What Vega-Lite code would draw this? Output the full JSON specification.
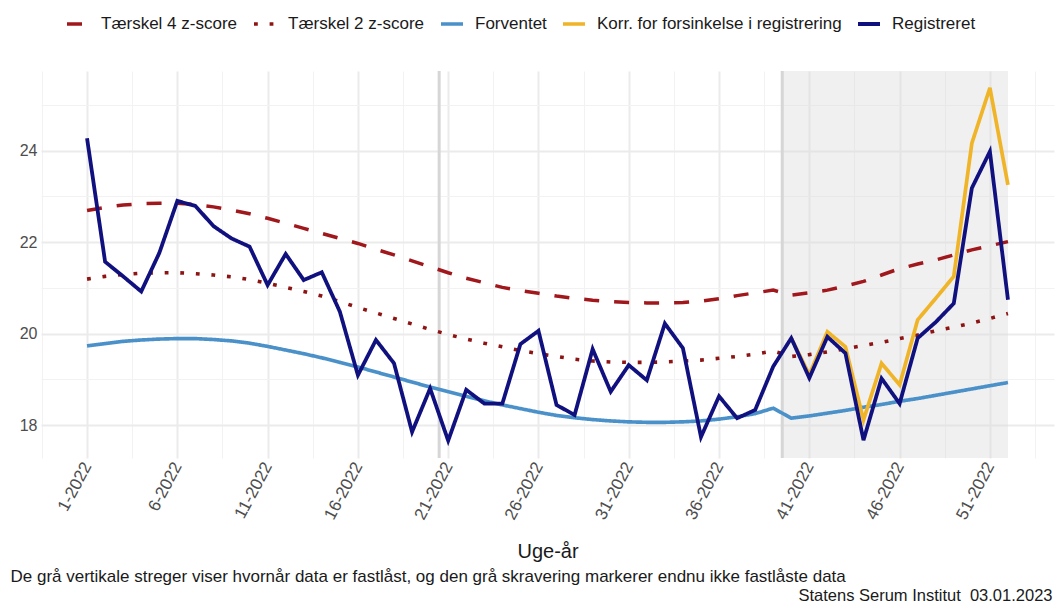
{
  "$schema": "https://vega.github.io/schema/vega-lite/v6.json",
  "width": 1013,
  "height": 387,
  "autosize": {"type": "none"},
  "padding": {"left": 41, "top": 71, "right": 4, "bottom": 146},
  "background": "white",
  "config": {
    "font": "Liberation Sans",
    "view": {"stroke": null},
    "axis": {"domain": false, "ticks": false, "labelColor": "#4d4d4d", "gridColor": "#ebebeb"}
  },
  "datasets": {
    "uger": [
      {"uge": 1, "t4": 22.69, "t2": 21.19, "forv": 19.73, "korr": null, "reg": 24.27},
      {"uge": 2, "t4": 22.76, "t2": 21.25, "forv": 19.78, "korr": null, "reg": 21.57},
      {"uge": 3, "t4": 22.81, "t2": 21.29, "forv": 19.83, "korr": null, "reg": 21.25},
      {"uge": 4, "t4": 22.84, "t2": 21.32, "forv": 19.86, "korr": null, "reg": 20.92},
      {"uge": 5, "t4": 22.85, "t2": 21.33, "forv": 19.88, "korr": null, "reg": 21.76},
      {"uge": 6, "t4": 22.85, "t2": 21.33, "forv": 19.89, "korr": null, "reg": 22.90},
      {"uge": 7, "t4": 22.82, "t2": 21.31, "forv": 19.89, "korr": null, "reg": 22.79},
      {"uge": 8, "t4": 22.77, "t2": 21.28, "forv": 19.87, "korr": null, "reg": 22.35},
      {"uge": 9, "t4": 22.70, "t2": 21.24, "forv": 19.84, "korr": null, "reg": 22.08},
      {"uge": 10, "t4": 22.62, "t2": 21.18, "forv": 19.79, "korr": null, "reg": 21.90},
      {"uge": 11, "t4": 22.52, "t2": 21.10, "forv": 19.72, "korr": null, "reg": 21.06},
      {"uge": 12, "t4": 22.41, "t2": 21.01, "forv": 19.64, "korr": null, "reg": 21.74},
      {"uge": 13, "t4": 22.30, "t2": 20.92, "forv": 19.56, "korr": null, "reg": 21.17},
      {"uge": 14, "t4": 22.19, "t2": 20.82, "forv": 19.47, "korr": null, "reg": 21.34},
      {"uge": 15, "t4": 22.08, "t2": 20.70, "forv": 19.37, "korr": null, "reg": 20.48},
      {"uge": 16, "t4": 21.97, "t2": 20.57, "forv": 19.27, "korr": null, "reg": 19.09},
      {"uge": 17, "t4": 21.84, "t2": 20.45, "forv": 19.16, "korr": null, "reg": 19.86},
      {"uge": 18, "t4": 21.72, "t2": 20.33, "forv": 19.05, "korr": null, "reg": 19.35},
      {"uge": 19, "t4": 21.59, "t2": 20.21, "forv": 18.94, "korr": null, "reg": 17.85},
      {"uge": 20, "t4": 21.46, "t2": 20.09, "forv": 18.83, "korr": null, "reg": 18.80},
      {"uge": 21, "t4": 21.33, "t2": 19.98, "forv": 18.73, "korr": null, "reg": 17.66},
      {"uge": 22, "t4": 21.21, "t2": 19.88, "forv": 18.63, "korr": null, "reg": 18.77},
      {"uge": 23, "t4": 21.11, "t2": 19.79, "forv": 18.53, "korr": null, "reg": 18.47},
      {"uge": 24, "t4": 21.01, "t2": 19.71, "forv": 18.44, "korr": null, "reg": 18.47},
      {"uge": 25, "t4": 20.94, "t2": 19.63, "forv": 18.36, "korr": null, "reg": 19.77},
      {"uge": 26, "t4": 20.88, "t2": 19.56, "forv": 18.28, "korr": null, "reg": 20.06},
      {"uge": 27, "t4": 20.82, "t2": 19.50, "forv": 18.21, "korr": null, "reg": 18.44},
      {"uge": 28, "t4": 20.77, "t2": 19.44, "forv": 18.16, "korr": null, "reg": 18.22},
      {"uge": 29, "t4": 20.73, "t2": 19.40, "forv": 18.12, "korr": null, "reg": 19.66},
      {"uge": 30, "t4": 20.70, "t2": 19.38, "forv": 18.09, "korr": null, "reg": 18.73},
      {"uge": 31, "t4": 20.68, "t2": 19.37, "forv": 18.07, "korr": null, "reg": 19.31},
      {"uge": 32, "t4": 20.67, "t2": 19.37, "forv": 18.06, "korr": null, "reg": 18.98},
      {"uge": 33, "t4": 20.67, "t2": 19.38, "forv": 18.06, "korr": null, "reg": 20.22},
      {"uge": 34, "t4": 20.68, "t2": 19.40, "forv": 18.07, "korr": null, "reg": 19.68},
      {"uge": 35, "t4": 20.71, "t2": 19.42, "forv": 18.09, "korr": null, "reg": 17.74},
      {"uge": 36, "t4": 20.76, "t2": 19.46, "forv": 18.13, "korr": null, "reg": 18.63},
      {"uge": 37, "t4": 20.83, "t2": 19.50, "forv": 18.18, "korr": null, "reg": 18.15},
      {"uge": 38, "t4": 20.89, "t2": 19.55, "forv": 18.25, "korr": null, "reg": 18.33},
      {"uge": 39, "t4": 20.95, "t2": 19.62, "forv": 18.37, "korr": null, "reg": 19.28},
      {"uge": 40, "t4": 20.84, "t2": 19.50, "forv": 18.15, "korr": 19.90, "reg": 19.90},
      {"uge": 41, "t4": 20.89, "t2": 19.54, "forv": 18.20, "korr": 19.10, "reg": 19.03},
      {"uge": 42, "t4": 20.95, "t2": 19.60, "forv": 18.26, "korr": 20.04, "reg": 19.93},
      {"uge": 43, "t4": 21.04, "t2": 19.67, "forv": 18.32, "korr": 19.71, "reg": 19.57},
      {"uge": 44, "t4": 21.14, "t2": 19.74, "forv": 18.39, "korr": 18.11, "reg": 17.67},
      {"uge": 45, "t4": 21.28, "t2": 19.81, "forv": 18.45, "korr": 19.35, "reg": 19.02},
      {"uge": 46, "t4": 21.42, "t2": 19.89, "forv": 18.52, "korr": 18.88, "reg": 18.47},
      {"uge": 47, "t4": 21.52, "t2": 19.97, "forv": 18.58, "korr": 20.30, "reg": 19.90},
      {"uge": 48, "t4": 21.61, "t2": 20.06, "forv": 18.65, "korr": 20.77, "reg": 20.25},
      {"uge": 49, "t4": 21.72, "t2": 20.14, "forv": 18.72, "korr": 21.25, "reg": 20.66},
      {"uge": 50, "t4": 21.83, "t2": 20.23, "forv": 18.79, "korr": 24.16, "reg": 23.18},
      {"uge": 51, "t4": 21.92, "t2": 20.33, "forv": 18.86, "korr": 25.37, "reg": 23.98},
      {"uge": 52, "t4": 22.01, "t2": 20.44, "forv": 18.93, "korr": 23.25, "reg": 20.74}
    ]
  },
  "layer": [
    {
      "data": {"values": [{"fra": 39.5, "til": 52}]},
      "mark": {"type": "rect", "color": "#d9d9d9", "opacity": 0.4},
      "encoding": {
        "x": {
          "field": "fra", "type": "quantitative",
          "scale": {"domain": [-1.55, 54.55], "nice": false, "zero": false},
          "axis": {
            "orient": "bottom", "labels": false, "grid": false, "ticks": false, "domain": false,
            "title": "De grå vertikale streger viser hvornår data er fastlåst, og den grå skravering markerer endnu ikke fastlåste data",
            "titleX": -31, "titleY": 118, "titleAlign": "left", "titleAnchor": "start", "titleBaseline": "middle",
            "titleFontSize": 17, "titleFontWeight": "normal", "titleColor": "#1a1a1a", "titleLimit": 0
          }
        },
        "x2": {"field": "til"}
      }
    },
    {
      "data": {"values": [{"laast": 20.5}, {"laast": 39.5}]},
      "mark": {"type": "rule", "color": "#d6d6d6", "strokeWidth": 3},
      "encoding": {
        "x": {
          "field": "laast", "type": "quantitative",
          "axis": {
            "orient": "bottom", "labels": false, "grid": false, "ticks": false, "domain": false,
            "title": "Statens Serum Institut\u00a0 03.01.2023",
            "titleX": 1011, "titleY": 137, "titleAlign": "right", "titleAnchor": "end", "titleBaseline": "middle",
            "titleFontSize": 16.5, "titleFontWeight": "normal", "titleColor": "#1a1a1a", "titleLimit": 0
          }
        }
      }
    },
    {
      "data": {"name": "uger"},
      "transform": [
        {"fold": ["t4", "t2", "forv", "korr"], "as": ["serie", "vaerdi"]},
        {"filter": "datum.vaerdi != null"}
      ],
      "mark": {"type": "line", "strokeCap": "butt"},
      "encoding": {
        "x": {
          "field": "uge", "type": "quantitative",
          "axis": {
            "orient": "bottom",
            "values": [-1.5, 1, 3.5, 6, 8.5, 11, 13.5, 16, 18.5, 21, 23.5, 26, 28.5, 31, 33.5, 36, 38.5, 41, 43.5, 46, 48.5, 51, 53.5],
            "labelExpr": "floor(datum.value) == datum.value ? datum.value + '-2022' : ''",
            "labelAngle": -62, "labelAlign": "right", "labelBaseline": "middle",
            "labelFontSize": 17, "labelPadding": 5, "labelOverlap": false, "labelFlush": false, "labelBound": false,
            "grid": true,
            "gridWidth": {"condition": {"test": "floor(datum.value) != datum.value", "value": 1}, "value": 2},
            "gridColor": {"condition": {"test": "floor(datum.value) != datum.value", "value": "#f2f2f2"}, "value": "#ebebeb"},
            "title": "Uge-år", "titleFontSize": 20, "titleFontWeight": "normal", "titleColor": "#1a1a1a",
            "titleY": 93, "titleBaseline": "middle"
          }
        },
        "y": {
          "field": "vaerdi", "type": "quantitative",
          "scale": {"domain": [17.28, 25.74], "nice": false, "zero": false},
          "axis": {
            "title": null,
            "values": [18, 19, 20, 21, 22, 23, 24, 25],
            "labelExpr": "datum.value % 2 == 0 ? datum.value : ''",
            "labelFontSize": 16, "labelPadding": 4,
            "gridWidth": {"condition": {"test": "datum.value % 2 == 1", "value": 1}, "value": 2},
            "gridColor": {"condition": {"test": "datum.value % 2 == 1", "value": "#f2f2f2"}, "value": "#ebebeb"}
          }
        },
        "color": {
          "field": "serie", "type": "nominal",
          "scale": {"domain": ["t4", "t2", "forv", "korr", "reg"], "range": ["#A0171C", "#8E1414", "#4A90C9", "#F0B429", "#10107F"]},
          "legend": {
            "orient": "none", "legendX": 24, "legendY": -60, "direction": "horizontal", "title": null,
            "symbolType": "stroke", "symbolSize": 484, "labelOffset": 10, "columnPadding": 8,
            "labelFontSize": 17, "labelColor": "#1a1a1a", "labelLimit": 0,
            "labelExpr": "datum.label == 't4' ? 'Tærskel 4 z-score' : datum.label == 't2' ? 'Tærskel 2 z-score' : datum.label == 'forv' ? 'Forventet' : datum.label == 'korr' ? 'Korr. for forsinkelse i registrering' : 'Registreret'"
          }
        },
        "strokeDash": {
          "field": "serie", "type": "nominal",
          "scale": {"domain": ["t4", "t2", "forv", "korr", "reg"], "range": [[15, 15], [3.8, 11.8], [1, 0], [1, 0], [1, 0]]}
        },
        "strokeWidth": {
          "field": "serie", "type": "ordinal",
          "scale": {"domain": ["t4", "t2", "forv", "korr", "reg"], "range": [3.5, 3.8, 2.6, 3.2, 4.2]}
        }
      }
    },
    {
      "data": {"name": "uger"},
      "transform": [
        {"fold": ["reg"], "as": ["serie", "vaerdi"]}
      ],
      "mark": {"type": "line", "strokeCap": "butt", "strokeJoin": "miter"},
      "encoding": {
        "x": {"field": "uge", "type": "quantitative", "axis": null},
        "y": {"field": "vaerdi", "type": "quantitative"},
        "color": {"field": "serie", "type": "nominal"},
        "strokeDash": {"field": "serie", "type": "nominal"},
        "strokeWidth": {"field": "serie", "type": "ordinal"}
      }
    }
  ],
  "resolve": {"axis": {"x": "independent"}}
}
